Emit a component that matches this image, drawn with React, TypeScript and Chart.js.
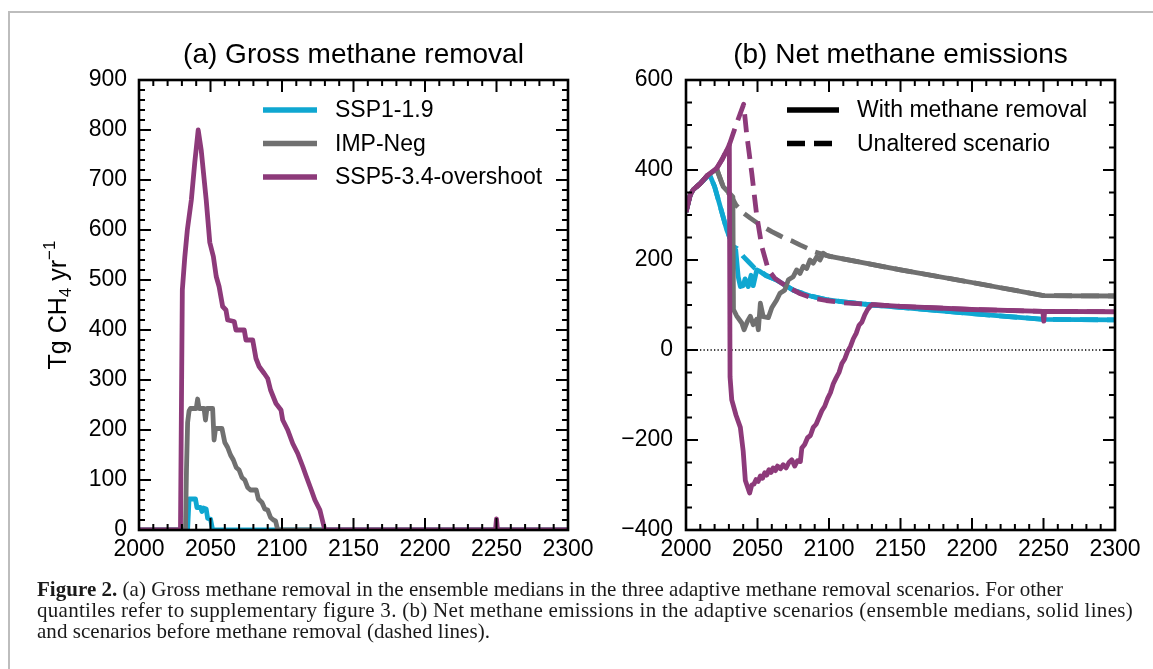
import React, { useEffect, useLayoutEffect, useRef } from "react";
import { Chart, registerables } from "chart.js";

Chart.register(...registerables);

// ---------------- data ----------------
const X_TICKS = [2000, 2050, 2100, 2150, 2200, 2250, 2300];
const GROSS_Y_TICKS = [0, 100, 200, 300, 400, 500, 600, 700, 800, 900];
const NET_Y_TICKS = [-400, -200, 0, 200, 400, 600];

const SCENARIOS = ["SSP1-1.9", "IMP-Neg", "SSP5-3.4-overshoot"];
const LINE_STYLES = ["With methane removal", "Unaltered scenario"];

// (a) gross methane removal, Tg CH4/yr
const grossSsp1Years = [2000, 2034, 2035, 2039.5, 2040.5, 2043, 2044, 2045, 2047, 2048, 2050, 2051.5, 2300];
const grossSsp1Values = [0, 0, 62, 62, 45, 45, 37, 44, 42, 23, 22, 0, 0];

const grossImpYears = [
  2000, 2032.5, 2033.2, 2034, 2035, 2036, 2040, 2041, 2042, 2045.5,
  2046.5, 2047.5, 2051.5, 2052.5, 2053.5, 2058, 2060, 2062, 2064, 2066,
  2068, 2070, 2072, 2074, 2076, 2078, 2082, 2083.5, 2086, 2088,
  2090, 2092, 2094, 2095.5, 2097, 2300,
];
const grossImpValues = [
  0, 0, 120, 215, 238, 243, 243, 262, 243, 243,
  220, 243, 243, 180, 203, 203, 175, 165, 150, 140,
  125, 120, 105, 100, 85, 80, 80, 62, 55, 42,
  40, 25, 20, 18, 0, 0,
];

const grossSsp5Years = [
  2000, 2029, 2030.3, 2032, 2033.8, 2036.6, 2039, 2041.4, 2043.5, 2047,
  2049.5, 2052, 2054, 2056, 2058.5, 2060.8, 2062, 2066.6, 2067.8, 2073.6,
  2074.8, 2079.5, 2081.8, 2084, 2087.6, 2090, 2092, 2095.8, 2099.3, 2100.5,
  2104, 2107.5, 2111, 2114.5, 2117, 2120.5, 2123, 2126.5, 2128.8, 2130,
  2249.3, 2250, 2250.7, 2300,
];
const grossSsp5Values = [
  0, 0, 480, 545, 600, 660, 735, 800, 760, 660,
  575, 547, 507, 487, 447, 440, 420, 417, 400, 400,
  380, 380, 343, 327, 313, 303, 280, 253, 240, 220,
  200, 173, 153, 127, 107, 80, 60, 40, 13, 0,
  0, 22, 0, 0,
];

// (b) net methane emissions, Tg CH4/yr
const netSsp1Years = [
  2000, 2003, 2005, 2010, 2015, 2016.5, 2020, 2024, 2028.5, 2033,
  2034.8, 2036.5, 2038, 2040, 2041.3, 2043.5, 2045.5, 2047, 2049.5, 2052,
  2056, 2063, 2075, 2087, 2098, 2110, 2130, 2150, 2200, 2250,
  2300,
];
const netSsp1Values = [
  307, 345, 356, 370, 386, 390, 363, 318, 267, 230,
  222, 163, 141, 143, 158, 141, 166, 143, 178, 174,
  165, 156, 133, 120, 112, 107, 100, 95, 81, 68,
  67,
];
const netSsp1BaseYears = [
  2000, 2003, 2005, 2010, 2015, 2016.5, 2020, 2024, 2028.5, 2033,
  2035.5, 2040, 2044, 2048, 2051, 2056, 2063, 2075, 2087, 2098,
  2110, 2130, 2150, 2200, 2250, 2300,
];
const netSsp1BaseValues = [
  307, 345, 356, 370, 386, 390, 363, 318, 267, 230,
  226, 208, 195, 182, 177, 166, 156, 133, 120, 112,
  107, 100, 95, 81, 68, 67,
];

const netImpYears = [
  2000, 2003, 2005, 2010, 2015, 2021.5, 2026, 2032.8, 2033.2, 2035.4,
  2039, 2040.6, 2043, 2045, 2047, 2049.4, 2050.6, 2052, 2054, 2057.6,
  2060, 2063.4, 2065.7, 2069, 2071.6, 2075, 2077.4, 2079.7, 2082, 2084.4,
  2086.7, 2089, 2091.4, 2093.7, 2096, 2098.4, 2100.7, 2150, 2200, 2250,
  2300,
];
const netImpValues = [
  307, 345, 356, 370, 388, 402, 363, 340, 90, 76,
  60, 45, 64, 75, 56, 68, 45, 104, 74, 72,
  94, 111, 126, 133, 156, 163, 178, 170, 186, 181,
  200, 193, 207, 200, 215, 210, 208, 178, 150, 121,
  120,
];
const netImpBaseYears = [
  2000, 2003, 2005, 2010, 2015, 2021.5, 2026, 2032, 2035, 2040,
  2045, 2050, 2055, 2060, 2065, 2070, 2075, 2080, 2085, 2090,
  2095, 2100.7, 2150, 2200, 2250, 2300,
];
const netImpBaseValues = [
  307, 345, 356, 370, 388, 402, 363, 340, 322, 305,
  293, 282, 272, 263, 255, 247, 241, 233, 226, 218,
  213, 208, 178, 150, 121, 120,
];

const netSsp5Years = [
  2000, 2003, 2005, 2010, 2015, 2021.5, 2025, 2028.5, 2030.3, 2030.8,
  2032, 2035, 2038, 2040, 2041.5, 2044.5, 2046, 2047.5, 2049, 2050.5,
  2052, 2053.5, 2055, 2056.5, 2058, 2059.5, 2061, 2062.5, 2064, 2066,
  2068, 2070, 2072, 2074, 2076, 2078, 2080, 2081, 2083, 2085,
  2087, 2089, 2091, 2093, 2095, 2097, 2099, 2101, 2103, 2105,
  2107, 2109, 2111, 2113, 2115, 2117, 2119, 2121, 2123, 2125,
  2127, 2129, 2130.5, 2150, 2200, 2249.5, 2250.2, 2250.8, 2300,
];
const netSsp5Values = [
  307, 345, 356, 370, 388, 404, 422, 444, 456, -60,
  -111, -145, -172, -225, -290, -318, -300, -298, -288, -292,
  -280, -285, -273, -278, -266, -272, -262, -268, -258, -264,
  -255, -262, -250, -244, -258, -246, -248, -218, -210, -195,
  -190, -172, -165, -150, -135, -125, -108, -95, -75, -62,
  -50, -30, -20, -3, 8, 25, 37, 55, 62, 78,
  90, 98, 101, 97, 90, 86, 64, 86, 85,
];
const netSsp5BaseYears = [
  2000, 2003, 2005, 2010, 2015, 2021.5, 2025, 2028.5, 2030.3, 2035,
  2040.3, 2042.4, 2046, 2049.4, 2053, 2057.6, 2062.2, 2070.4, 2080, 2089,
  2098, 2110, 2130, 2150, 2200, 2250, 2300,
];
const netSsp5BaseValues = [
  307, 345, 356, 370, 388, 404, 422, 444, 456, 500,
  546, 481, 393, 300, 230, 178, 159, 141, 125, 115,
  110, 105, 101, 97, 90, 86, 85,
];

const zeroLineYears = [2000, 2300];
const zeroLineValues = [0, 0];

// ---------------- styling ----------------
const COLORS = ["#0fa7d1", "#707070", "#8d3a7a"];
const SANS = "'Liberation Sans', Arial, Helvetica, sans-serif";
const SERIF = "'Liberation Serif', 'Times New Roman', serif";
const LINE_W = 4.8;
const DASH = [18, 9];

type Pt = { x: number; y: number };
const zip = (xs: number[], ys: number[]): Pt[] => xs.map((x, i) => ({ x, y: ys[i] }));

type LegendEntry = { label: string; color: string; dash: number[] };
type DecorCfg = {
  title: string;
  xMinor: number;
  xMajor: number;
  yMinor: number;
  yMajor: number;
  legend: LegendEntry[];
  legendDx: number;
  legendLine: number;
  legendTextDx: number;
  legendDy: number;
  legendRow: number;
  yTitle: boolean;
};

function makeDecor(cfg: DecorCfg) {
  return {
    id: "decor",
    afterDatasetsDraw(chart: any) {
      const { ctx, chartArea: a } = chart;
      const xs = chart.scales.x;
      const ys = chart.scales.y;
      ctx.save();
      ctx.strokeStyle = "#000";
      ctx.lineCap = "butt";
      ctx.lineWidth = 2;
      ctx.beginPath();
      const nx = Math.round((xs.max - xs.min) / cfg.xMinor);
      for (let i = 0; i <= nx; i++) {
        const v = xs.min + i * cfg.xMinor;
        const r = (v - xs.min) / cfg.xMajor;
        const major = Math.abs(r - Math.round(r)) < 1e-6;
        const len = major ? 12 : 6;
        const p = xs.getPixelForValue(v);
        ctx.moveTo(p, a.bottom);
        ctx.lineTo(p, a.bottom - len);
        ctx.moveTo(p, a.top);
        ctx.lineTo(p, a.top + len);
      }
      const ny = Math.round((ys.max - ys.min) / cfg.yMinor);
      for (let i = 0; i <= ny; i++) {
        const v = ys.min + i * cfg.yMinor;
        const r = (v - ys.min) / cfg.yMajor;
        const major = Math.abs(r - Math.round(r)) < 1e-6;
        const len = major ? 12 : 6;
        const p = ys.getPixelForValue(v);
        ctx.moveTo(a.left, p);
        ctx.lineTo(a.left + len, p);
        ctx.moveTo(a.right, p);
        ctx.lineTo(a.right - len, p);
      }
      ctx.stroke();
      ctx.lineWidth = 2.6;
      ctx.strokeRect(a.left, a.top, a.right - a.left, a.bottom - a.top);

      // title
      ctx.fillStyle = "#000";
      ctx.font = `28px ${SANS}`;
      ctx.textAlign = "center";
      ctx.textBaseline = "middle";
      ctx.fillText(cfg.title, (a.left + a.right) / 2, 55);

      // legend
      ctx.font = `23px ${SANS}`;
      ctx.textAlign = "left";
      cfg.legend.forEach((e, i) => {
        const y = a.top + cfg.legendDy + i * cfg.legendRow;
        const x0 = a.left + cfg.legendDx;
        ctx.beginPath();
        ctx.strokeStyle = e.color;
        ctx.lineWidth = 5.5;
        ctx.setLineDash(e.dash);
        ctx.moveTo(x0, y);
        ctx.lineTo(x0 + cfg.legendLine, y);
        ctx.stroke();
        ctx.setLineDash([]);
        ctx.fillStyle = "#000";
        ctx.fillText(e.label, x0 + cfg.legendTextDx, y + 1);
      });

      // y-axis title with subscript / superscript
      if (cfg.yTitle) {
        const parts = [
          { t: "Tg CH", s: 25, dy: 0 },
          { t: "4", s: 17, dy: 5 },
          { t: " yr", s: 25, dy: 0 },
          { t: "\u22121", s: 17, dy: -11 },
        ];
        let total = 0;
        const widths = parts.map((p) => {
          ctx.font = `${p.s}px ${SANS}`;
          const w = ctx.measureText(p.t).width;
          total += w;
          return w;
        });
        ctx.translate(66, (a.top + a.bottom) / 2);
        ctx.rotate(-Math.PI / 2);
        ctx.textBaseline = "alphabetic";
        ctx.textAlign = "left";
        let x = -total / 2;
        parts.forEach((p, i) => {
          ctx.font = `${p.s}px ${SANS}`;
          ctx.fillText(p.t, x, p.dy);
          x += widths[i];
        });
      }
      ctx.restore();
    },
  };
}

function lineDs(label: string, xs: number[], ys: number[], color: string, order: number, dash: number[] = []) {
  return {
    label,
    data: zip(xs, ys),
    borderColor: color,
    backgroundColor: color,
    borderWidth: LINE_W,
    borderDash: dash,
    borderJoinStyle: "round",
    borderCapStyle: "butt",
    pointRadius: 0,
    tension: 0,
    fill: false,
    order,
  };
}

function baseOptions(opts: {
  padRight: number;
  yWidth: number;
  yMin: number;
  yMax: number;
  yTicks: number[];
  yPad: number;
}) {
  const font = { family: SANS, size: 23 };
  return {
    animation: false,
    responsive: false,
    maintainAspectRatio: false,
    layout: { padding: { top: 80, right: opts.padRight, left: 0, bottom: 0 } },
    plugins: { legend: { display: false }, tooltip: { enabled: false }, title: { display: false } },
    scales: {
      x: {
        type: "linear",
        min: 2000,
        max: 2300,
        afterBuildTicks: (s: any) => {
          s.ticks = X_TICKS.map((v) => ({ value: v }));
        },
        afterFit: (s: any) => {
          s.height = 50;
          s.paddingLeft = 0;
          s.paddingRight = 0;
        },
        ticks: {
          autoSkip: false,
          maxRotation: 0,
          minRotation: 0,
          padding: 6,
          color: "#000",
          font,
          callback: (v: number) => String(v),
        },
        grid: { display: false, drawTicks: false, tickLength: 0 },
        border: { display: false },
      },
      y: {
        type: "linear",
        min: opts.yMin,
        max: opts.yMax,
        afterBuildTicks: (s: any) => {
          s.ticks = opts.yTicks.map((v) => ({ value: v }));
        },
        afterFit: (s: any) => {
          s.width = opts.yWidth;
          s.paddingTop = 0;
          s.paddingBottom = 0;
        },
        ticks: {
          autoSkip: false,
          padding: opts.yPad,
          color: "#000",
          font,
          callback: (v: number) => (v < 0 ? "\u2212" + Math.abs(v) : String(v)),
        },
        grid: { display: false, drawTicks: false, tickLength: 0 },
        border: { display: false },
      },
    },
  };
}

function grossConfig(): any {
  return {
    type: "line",
    data: {
      datasets: [
        lineDs(SCENARIOS[0], grossSsp1Years, grossSsp1Values, COLORS[0], 3),
        lineDs(SCENARIOS[1], grossImpYears, grossImpValues, COLORS[1], 2),
        lineDs(SCENARIOS[2], grossSsp5Years, grossSsp5Values, COLORS[2], 1),
      ],
    },
    options: baseOptions({ padRight: 42, yWidth: 139, yMin: 0, yMax: 900, yTicks: GROSS_Y_TICKS, yPad: 12 }),
    plugins: [
      makeDecor({
        title: "(a) Gross methane removal",
        xMinor: 10,
        xMajor: 50,
        yMinor: 20,
        yMajor: 100,
        legend: SCENARIOS.map((s, i) => ({ label: s, color: COLORS[i], dash: [] })),
        legendDx: 124,
        legendLine: 54,
        legendTextDx: 72,
        legendDy: 30,
        legendRow: 33.5,
        yTitle: true,
      }),
    ],
  };
}

function netConfig(): any {
  return {
    type: "line",
    data: {
      datasets: [
        lineDs("zero", zeroLineYears, zeroLineValues, "#000", 10, [1.3, 2.2]),
        lineDs(SCENARIOS[0] + " unaltered", netSsp1BaseYears, netSsp1BaseValues, COLORS[0], 8, DASH),
        lineDs(SCENARIOS[0], netSsp1Years, netSsp1Values, COLORS[0], 7),
        lineDs(SCENARIOS[1] + " unaltered", netImpBaseYears, netImpBaseValues, COLORS[1], 6, DASH),
        lineDs(SCENARIOS[1], netImpYears, netImpValues, COLORS[1], 5),
        lineDs(SCENARIOS[2] + " unaltered", netSsp5BaseYears, netSsp5BaseValues, COLORS[2], 4, DASH),
        lineDs(SCENARIOS[2], netSsp5Years, netSsp5Values, COLORS[2], 3),
      ].map((d) => (d.label === "zero" ? { ...d, borderWidth: 1.3 } : d)),
    },
    options: baseOptions({ padRight: 38, yWidth: 76, yMin: -400, yMax: 600, yTicks: NET_Y_TICKS, yPad: 13 }),
    plugins: [
      makeDecor({
        title: "(b) Net methane emissions",
        xMinor: 10,
        xMajor: 50,
        yMinor: 50,
        yMajor: 200,
        legend: [
          { label: LINE_STYLES[0], color: "#000", dash: [] },
          { label: LINE_STYLES[1], color: "#000", dash: DASH },
        ],
        legendDx: 101,
        legendLine: 52,
        legendTextDx: 70,
        legendDy: 30,
        legendRow: 33.5,
        yTitle: false,
      }),
    ],
  };
}

function ChartCanvas({ make, left, width, height }: { make: () => any; left: number; width: number; height: number }) {
  const ref = useRef<HTMLCanvasElement>(null);
  useEffect(() => {
    const chart = new Chart(ref.current as HTMLCanvasElement, make());
    return () => chart.destroy();
  }, []);
  return (
    <canvas
      ref={ref}
      width={width}
      height={height}
      style={{ position: "absolute", left, top: 0, width, height, display: "block" }}
    />
  );
}

// caption line stretched/condensed by letter-spacing to the reference line length
function FitLine({ width, children }: { width: number; children: React.ReactNode }) {
  const ref = useRef<HTMLSpanElement>(null);
  useLayoutEffect(() => {
    const el = ref.current;
    if (!el) return;
    el.style.letterSpacing = "0px";
    const natural = el.getBoundingClientRect().width;
    const n = (el.textContent || "").length;
    if (n > 0) el.style.letterSpacing = `${(width - natural) / n}px`;
  }, [width]);
  return (
    <div style={{ whiteSpace: "nowrap", height: 21 }}>
      <span ref={ref} style={{ display: "inline-block" }}>
        {children}
      </span>
    </div>
  );
}

export default function App() {
  return (
    <div
      style={{
        position: "absolute",
        left: 0,
        top: 0,
        width: 1153,
        height: 669,
        overflow: "hidden",
        background: "#fff",
      }}
    >
      <div style={{ position: "absolute", left: 8, top: 11, width: 1145, borderTop: "2px solid #bdbdbd" }} />
      <div style={{ position: "absolute", left: 8, top: 11, height: 658, borderLeft: "2px solid #bdbdbd" }} />
      <ChartCanvas make={grossConfig} left={0} width={610} height={580} />
      <ChartCanvas make={netConfig} left={610} width={543} height={580} />
      <div
        style={{
          position: "absolute",
          left: 37,
          top: 579,
          fontFamily: SERIF,
          fontSize: 21,
          lineHeight: "21px",
          color: "#1a1a1a",
        }}
      >
        <FitLine width={1026}>
          <b>Figure 2.</b> (a) Gross methane removal in the ensemble medians in the three adaptive methane removal scenarios. For other
        </FitLine>
        <FitLine width={1096}>
          quantiles refer to supplementary figure 3. (b) Net methane emissions in the adaptive scenarios (ensemble medians, solid lines)
        </FitLine>
        <FitLine width={453}>and scenarios before methane removal (dashed lines).</FitLine>
      </div>
    </div>
  );
}
